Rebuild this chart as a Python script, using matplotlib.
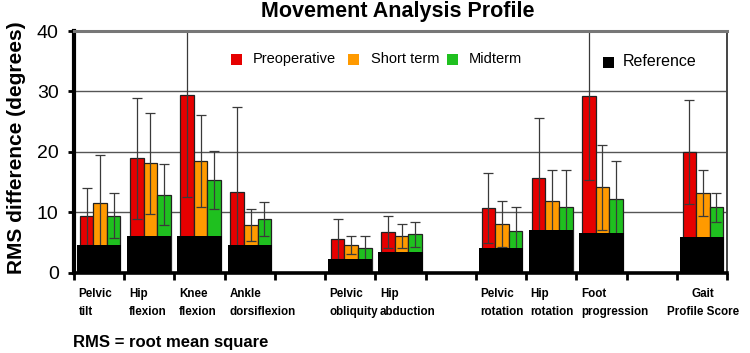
import matplotlib
matplotlib.use("Agg")
import matplotlib.pyplot as plt
from matplotlib.patches import Rectangle
import numpy as np

plt.rcParams['font.family'] = ['Liberation Sans', 'DejaVu Sans']

categories = ['Pelvic\ntilt', 'Hip\nflexion', 'Knee\nflexion', 'Ankle\ndorsiflexion',
              'Pelvic\nobliquity', 'Hip\nabduction', 'Pelvic\nrotation', 'Hip\nrotation',
              'Foot\nprogression', 'Gait\nProfile Score']
slots = [0, 1, 2, 3, 5, 6, 8, 9, 10, 12]
reference = [4.5, 6.1, 6.1, 4.5, 2.3, 3.4, 4.0, 7.0, 6.5, 5.9]
preop = [9.3, 18.9, 29.4, 13.3, 5.6, 6.7, 10.7, 15.6, 29.3, 20.0]
preop_sd = [4.7, 10.0, 16.9, 14.1, 3.3, 2.6, 5.8, 10.0, 14.0, 8.6]
short = [11.5, 18.1, 18.5, 7.9, 4.5, 6.1, 8.0, 11.9, 14.1, 13.2]
short_sd = [8.0, 8.4, 7.6, 2.7, 1.5, 2.0, 3.8, 5.1, 7.0, 3.8]
mid = [9.4, 12.9, 15.3, 8.9, 4.0, 6.3, 6.9, 10.9, 12.2, 10.8]
mid_sd = [3.7, 5.0, 4.8, 2.8, 2.1, 2.1, 3.9, 6.1, 6.2, 2.4]
series_names = ['Preoperative', 'Short term', 'Midterm']
yticks = [0, 10, 20, 30, 40]

colors = ['#e60000', '#ff9a00', '#1fc01f']

fig = plt.figure(figsize=(7.5, 3.53), dpi=100)
W, H = 750, 353
ax = fig.add_axes([74 / W, 1 - 272.5 / H, (727 - 74) / W, (272.5 - 31) / H])

centers = np.array(slots) + 0.5
offsets = [-0.25, 0.02, 0.29]
bw = 0.27
for vals, sds, off, col in zip([preop, short, mid], [preop_sd, short_sd, mid_sd], offsets, colors):
    x = centers + off
    ax.bar(x, vals, width=bw, color=col, edgecolor='#222222', linewidth=0.9, zorder=2)
    ax.errorbar(x, vals, yerr=sds, fmt='none', ecolor='#3a3a3a', elinewidth=0.9,
                capsize=3.5, capthick=0.9, zorder=3)

ax.bar(centers, reference, width=0.88, color='black', edgecolor='none', zorder=4)

ax.set_xlim(0, 13)
ax.set_ylim(0, 40)
ax.set_yticks(yticks)
ax.set_yticklabels([str(t) for t in yticks], fontsize=14)
ax.set_xticks(np.arange(0, 14))
ax.set_xticklabels([])
ax.tick_params(axis='y', direction='out', length=4, width=2, pad=7)
ax.tick_params(axis='x', direction='out', length=5, width=2)
for y in [10, 20, 30]:
    ax.axhline(y, color='#555555', linewidth=1.0, zorder=1)

ax.spines['left'].set_linewidth(3.0)
ax.spines['left'].set_color('black')
ax.spines['bottom'].set_linewidth(2.6)
ax.spines['bottom'].set_color('black')
ax.spines['top'].set_linewidth(2.2)
ax.spines['top'].set_color('#777777')
ax.spines['right'].set_linewidth(1.4)
ax.spines['right'].set_color('#444444')
for s in ax.spines.values():
    s.set_zorder(6)

# category labels
trans = ax.get_xaxis_transform()
for cat, s in zip(categories, slots):
    if s == 12:
        ax.text(s + 0.52, -0.066, cat, transform=trans, ha='center', va='top',
                multialignment='center', fontsize=8.4, fontweight='bold', linespacing=1.65)
    else:
        ax.text(s + 0.09, -0.066, cat, transform=trans, ha='left', va='top',
                fontsize=8.4, fontweight='bold', linespacing=1.65)

# legend (manual)
leg = [(231, 59, series_names[0], colors[0], 253, 11, 10.5),
       (348, 59, series_names[1], colors[1], 371, 11, 10.5),
       (447, 59, series_names[2], colors[2], 469, 11, 10.5),
       (603, 62, 'Reference', 'black', 623, 11, 11.5)]
for x0, yc, name, col, tx, sz, fs in leg:
    fig.patches.append(Rectangle((x0 / W, 1 - (yc + sz / 2) / H), sz / W, sz / H,
                                 transform=fig.transFigure, facecolor=col, edgecolor='none'))
    fig.text(tx / W, 1 - yc / H, name, ha='left', va='center', fontsize=fs)

fig.text(398 / W, 1 - 12 / H, 'Movement Analysis Profile', ha='center', va='center',
         fontsize=15.5, fontweight='bold')
fig.text(17 / W, 1 - 148 / H, 'RMS difference (degrees)', ha='center', va='center',
         rotation=90, fontsize=15, fontweight='bold')
fig.text(73 / W, 1 - 342 / H, 'RMS = root mean square', ha='left', va='center',
         fontsize=12, fontweight='bold')

fig.savefig('out.png', dpi=100)
